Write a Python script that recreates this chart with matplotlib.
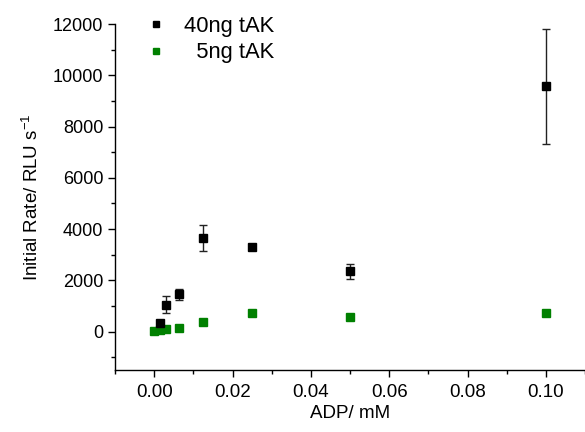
import numpy as np
import matplotlib.pyplot as plt

plt.rcParams['font.family'] = ['Liberation Sans', 'DejaVu Sans']

# 40ng tAK
adp_40 = [0.0015625, 0.003125, 0.00625, 0.0125, 0.025, 0.05, 0.1]
rate_40 = [350, 1050, 1450, 3650, 3300, 2360, 9570]
err_40 = [60, 330, 230, 520, 100, 290, 2250]

# 5ng tAK
adp_5 = [0.0, 0.0015625, 0.003125, 0.00625, 0.0125, 0.025, 0.05, 0.1]
rate_5 = [25, 50, 90, 155, 375, 740, 585, 740]

fig = plt.figure(figsize=(5.85, 4.32), dpi=100)
ax = fig.add_axes([0.1966, 0.1435, 0.8034, 0.8009])

eb = ax.errorbar(adp_40, rate_40, yerr=err_40, fmt='s', color='black', ms=5.5,
                 ecolor='#222222', elinewidth=1, capsize=3, capthick=1)
g, = ax.plot(adp_5, rate_5, 's', color='#008000', ms=5.5)

ax.set_xlim(-0.01, 0.11)
ax.set_ylim(-1500, 12000)
ax.set_xticks(np.arange(0, 0.101, 0.02))
ax.set_xticks(np.arange(-0.01, 0.111, 0.01), minor=True)
ax.set_yticks(np.arange(0, 12001, 2000))
ax.set_yticks(np.arange(-1000, 12001, 1000), minor=True)
ax.xaxis.set_major_formatter(plt.FormatStrFormatter('%.2f'))

for s in ['top', 'right']:
    ax.spines[s].set_visible(False)
for s in ['left', 'bottom']:
    ax.spines[s].set_linewidth(1.0)
ax.tick_params(which='major', direction='out', length=5, width=1)
ax.tick_params(which='minor', direction='out', length=3, width=1)
ax.tick_params(axis='x', labelsize=13.5, pad=5)
ax.tick_params(axis='y', labelsize=13)

ax.set_xlabel('ADP/ mM', fontsize=13.5, labelpad=3)
ax.set_ylabel('Initial Rate/ RLU s$^{\\mathregular{-1}}$', fontsize=13.5, labelpad=8)

leg = fig.legend([eb[0], g], ['40ng tAK', '  5ng tAK'], loc='upper left',
                 bbox_to_anchor=(149 / 585, 1 - 16 / 432), frameon=False,
                 fontsize=15.8, handlelength=0.6, handletextpad=1.0,
                 labelspacing=0.25, markerscale=0.85, borderpad=0, borderaxespad=0)

fig.savefig('out.png', dpi=100)
